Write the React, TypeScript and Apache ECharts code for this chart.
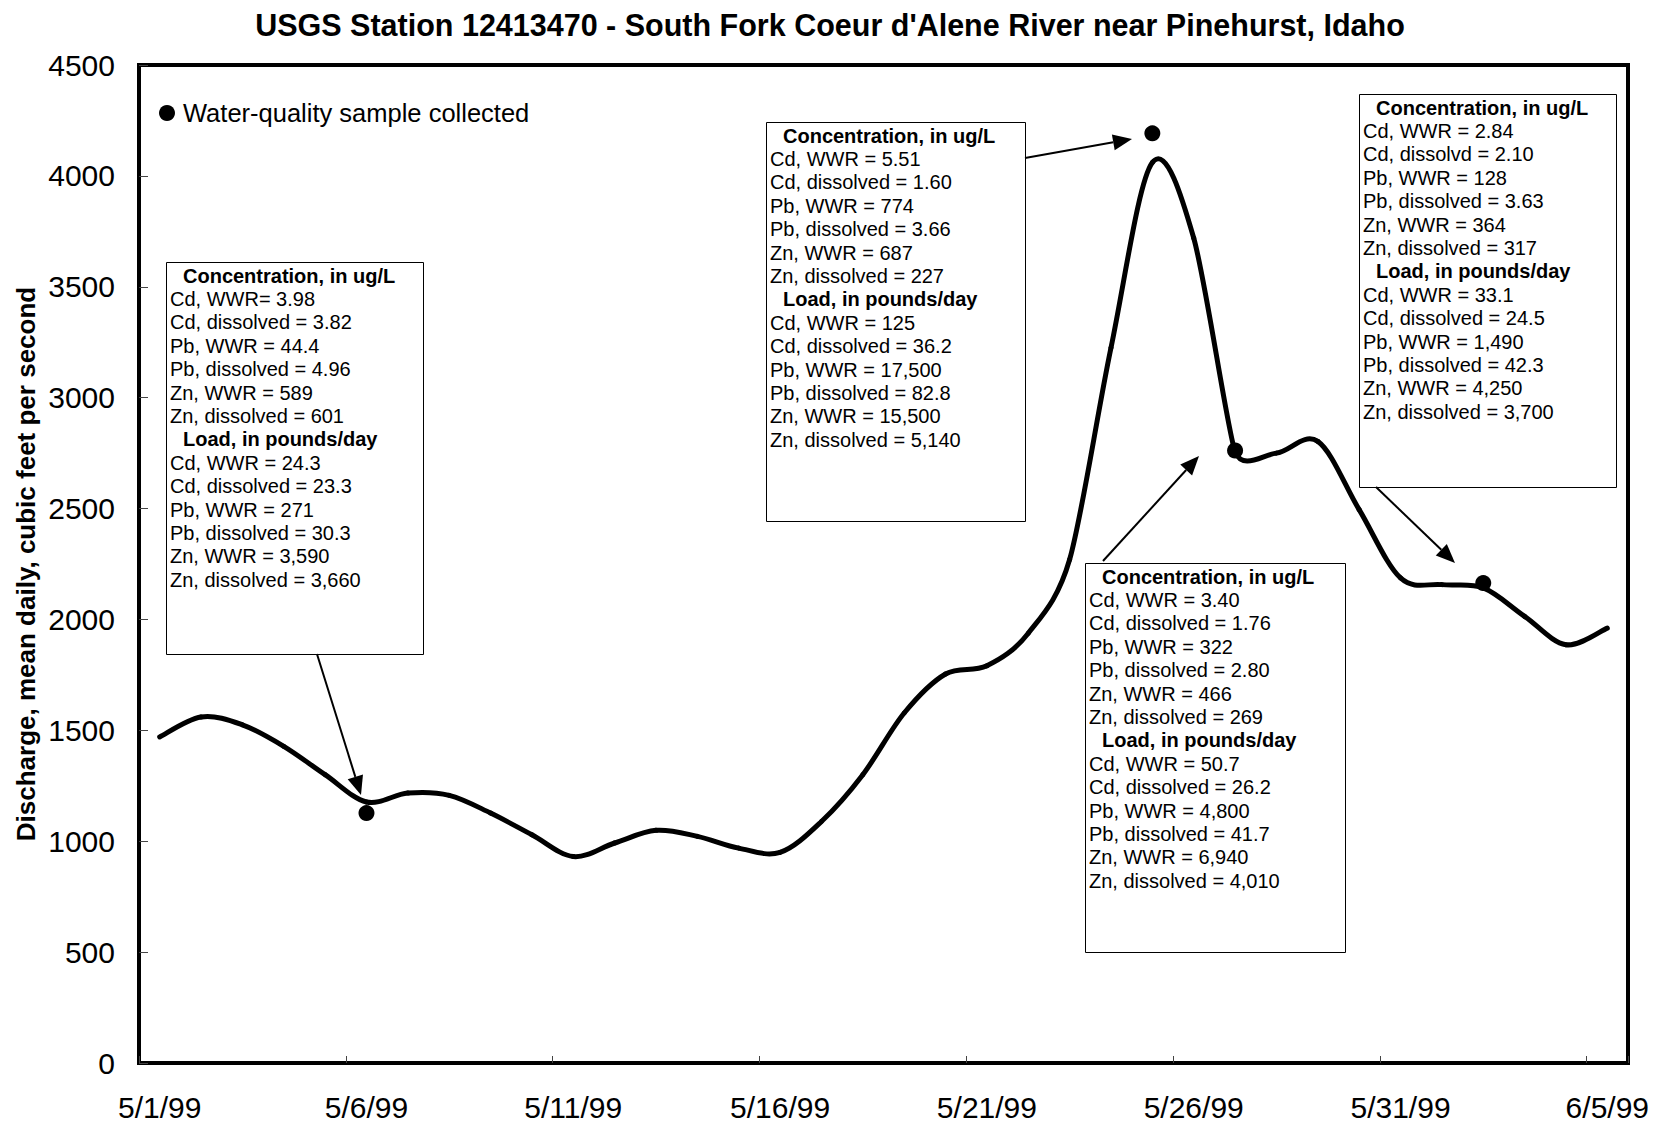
import React, { useEffect, useRef } from 'react';
import * as echarts from 'echarts';

const FONT = "'Liberation Sans', Arial, Helvetica, sans-serif";

const titleText = "USGS Station 12413470 - South Fork Coeur d'Alene River near Pinehurst, Idaho";
const yAxisTitle = 'Discharge, mean daily, cubic feet per second';
const sampleLegend = 'Water-quality sample collected';

const dates = [
  '5/1/99', '5/2/99', '5/3/99', '5/4/99', '5/5/99', '5/6/99', '5/7/99', '5/8/99', '5/9/99',
  '5/10/99', '5/11/99', '5/12/99', '5/13/99', '5/14/99', '5/15/99', '5/16/99', '5/17/99',
  '5/18/99', '5/19/99', '5/20/99', '5/21/99', '5/22/99', '5/23/99', '5/24/99', '5/25/99',
  '5/26/99', '5/27/99', '5/28/99', '5/29/99', '5/30/99', '5/31/99', '6/1/99', '6/2/99',
  '6/3/99', '6/4/99', '6/5/99',
];

const discharge = [
  1470, 1560, 1525, 1428, 1300, 1177, 1217, 1207, 1127,
  1029, 931, 992, 1049, 1022, 969, 950, 1089,
  1300, 1578, 1754, 1791, 1938, 2270, 3225, 4060,
  3720, 2757, 2750, 2803, 2495, 2187, 2157, 2142,
  2014, 1886, 1961,
];

const sampleDates = ['5/6/99', '5/25/99', '5/27/99', '6/2/99'];
const sampleDischarge = [1127, 4192, 2762, 2164];

const yMin = 0;
const yMax = 4500;
const yStep = 500;

const box1Lines = [
  '*Concentration, in ug/L', 'Cd, WWR= 3.98', 'Cd, dissolved = 3.82', 'Pb, WWR = 44.4',
  'Pb, dissolved = 4.96', 'Zn, WWR = 589', 'Zn, dissolved = 601', '*Load, in pounds/day',
  'Cd, WWR = 24.3', 'Cd, dissolved = 23.3', 'Pb, WWR = 271', 'Pb, dissolved = 30.3',
  'Zn, WWR = 3,590', 'Zn, dissolved = 3,660',
];
const box2Lines = [
  '*Concentration, in ug/L', 'Cd, WWR = 5.51', 'Cd, dissolved = 1.60', 'Pb, WWR = 774',
  'Pb, dissolved = 3.66', 'Zn, WWR = 687', 'Zn, dissolved = 227', '*Load, in pounds/day',
  'Cd, WWR = 125', 'Cd, dissolved = 36.2', 'Pb, WWR = 17,500', 'Pb, dissolved = 82.8',
  'Zn, WWR = 15,500', 'Zn, dissolved = 5,140',
];
const box3Lines = [
  '*Concentration, in ug/L', 'Cd, WWR = 2.84', 'Cd, dissolvd = 2.10', 'Pb, WWR = 128',
  'Pb, dissolved = 3.63', 'Zn, WWR = 364', 'Zn, dissolved = 317', '*Load, in pounds/day',
  'Cd, WWR = 33.1', 'Cd, dissolved = 24.5', 'Pb, WWR = 1,490', 'Pb, dissolved = 42.3',
  'Zn, WWR = 4,250', 'Zn, dissolved = 3,700',
];
const box4Lines = [
  '*Concentration, in ug/L', 'Cd, WWR = 3.40', 'Cd, dissolved = 1.76', 'Pb, WWR = 322',
  'Pb, dissolved = 2.80', 'Zn, WWR = 466', 'Zn, dissolved = 269', '*Load, in pounds/day',
  'Cd, WWR = 50.7', 'Cd, dissolved = 26.2', 'Pb, WWR = 4,800', 'Pb, dissolved = 41.7',
  'Zn, WWR = 6,940', 'Zn, dissolved = 4,010',
];

// annotation layout (pixels)
const boxes = [
  { x: 166, y: 262, w: 257, h: 392, lines: box1Lines },
  { x: 766, y: 122, w: 259, h: 399, lines: box2Lines },
  { x: 1359, y: 94, w: 257, h: 393, lines: box3Lines },
  { x: 1085, y: 563, w: 260, h: 389, lines: box4Lines },
];
const arrows = [
  { from: [317, 654], to: [361, 795] },
  { from: [1025, 158], to: [1132, 139] },
  { from: [1103, 561], to: [1199, 456] },
  { from: [1376, 487], to: [1455, 563] },
];

function buildGraphics() {
  const els: any[] = [];
  boxes.forEach((b) => {
    els.push({
      type: 'rect',
      z: 50,
      shape: { x: b.x + 0.5, y: b.y + 0.5, width: b.w, height: b.h },
      style: { fill: '#fff', stroke: '#000', lineWidth: 1 },
    });
    b.lines.forEach((ln, k) => {
      const bold = ln.startsWith('*');
      const txt = bold ? ln.slice(1) : ln;
      els.push({
        type: 'text',
        z: 51,
        x: b.x + (bold ? 17 : 4),
        y: b.y + 13.5 + k * 23.4,
        style: {
          text: txt,
          fill: '#000',
          fontSize: 20,
          fontWeight: bold ? 'bold' : 'normal',
          fontFamily: FONT,
          textAlign: 'left',
          align: 'left',
          textVerticalAlign: 'middle',
          verticalAlign: 'middle',
        },
      });
    });
  });
  arrows.forEach((a) => {
    const [x1, y1] = a.from;
    const [x2, y2] = a.to;
    const dx = x2 - x1;
    const dy = y2 - y1;
    const len = Math.sqrt(dx * dx + dy * dy);
    const ux = dx / len;
    const uy = dy / len;
    const headLen = 19;
    const headHalf = 8;
    const bx = x2 - ux * headLen;
    const by = y2 - uy * headLen;
    els.push({
      type: 'line',
      z: 52,
      shape: { x1, y1, x2: bx, y2: by },
      style: { stroke: '#000', lineWidth: 2 },
    });
    els.push({
      type: 'polygon',
      z: 52,
      shape: {
        points: [
          [x2, y2],
          [bx - uy * headHalf, by + ux * headHalf],
          [bx + uy * headHalf, by - ux * headHalf],
        ],
      },
      style: { fill: '#000' },
    });
  });
  els.push({
    type: 'text',
    x: 26,
    y: 564,
    rotation: Math.PI / 2,
    style: {
      text: yAxisTitle,
      fill: '#000',
      fontSize: 26,
      fontWeight: 'bold',
      fontFamily: FONT,
      textAlign: 'center',
      align: 'center',
      textVerticalAlign: 'middle',
      verticalAlign: 'middle',
    },
  });
  return els;
}

// spreadsheet-style smoothed segment between day k and day k+1, positioned by the chart's scales
function renderDischargeSegment(params: any, api: any) {
  const n = discharge.length;
  const k = params.dataIndex;
  if (k >= n - 1) return null;
  const c = (j: number) => {
    const jj = Math.min(Math.max(j, 0), n - 1);
    return api.coord([jj, discharge[jj]]);
  };
  const dist = (a: number[], b: number[]) => Math.hypot(a[0] - b[0], a[1] - b[1]);
  // tangent at point j (half-handle vector), limited to half of the shorter neighbouring segment
  const tangent = (j: number) => {
    const p0 = c(j - 1);
    const p1 = c(j);
    const p2 = c(j + 1);
    const d01 = dist(p0, p1);
    const d12 = dist(p1, p2);
    const d02 = dist(p0, p2);
    if (d02 === 0) return [0, 0];
    let f = 1 / 6;
    const minSeg = Math.min(d01 || d12, d12 || d01);
    if (d02 * f > minSeg / 2) f = minSeg / (2 * d02);
    return [(p2[0] - p0[0]) * f, (p2[1] - p0[1]) * f];
  };
  const p1 = c(k);
  const p2 = c(k + 1);
  const t1 = tangent(k);
  const t2 = tangent(k + 1);
  return {
    type: 'bezierCurve',
    shape: {
      x1: p1[0],
      y1: p1[1],
      x2: p2[0],
      y2: p2[1],
      cpx1: p1[0] + t1[0],
      cpy1: p1[1] + t1[1],
      cpx2: p2[0] - t2[0],
      cpy2: p2[1] - t2[1],
    },
    style: { stroke: '#000', lineWidth: 5, fill: null, lineCap: 'round', lineJoin: 'round' },
  };
}

export default function App() {
  const ref = useRef<HTMLDivElement>(null);
  useEffect(() => {
    if (!ref.current) return;
    const chart = echarts.init(ref.current, undefined, { renderer: 'svg' });
    chart.setOption({
      animation: false,
      backgroundColor: '#fff',
      title: {
        text: titleText,
        left: 'center',
        top: 9,
        padding: 0,
        textStyle: { fontSize: 30.5, fontWeight: 'bold', color: '#000', fontFamily: FONT },
      },
      legend: {
        data: [{ name: sampleLegend, icon: 'circle', itemStyle: { color: '#000', opacity: 1 } }],
        left: 159,
        top: 100,
        padding: 0,
        itemWidth: 16,
        itemHeight: 16,
        selectedMode: false,
        textStyle: { fontSize: 25.5, color: '#000', fontFamily: FONT, padding: [0, 0, 0, 3] },
      },
      grid: {
        left: 139,
        right: 32,
        top: 65,
        bottom: 61,
        show: true,
        borderColor: '#000',
        borderWidth: 4,
        backgroundColor: 'transparent',
      },
      xAxis: {
        type: 'category',
        data: dates,
        boundaryGap: true,
        axisLine: { show: false },
        axisTick: { show: true, inside: true, length: 7, interval: 4, lineStyle: { color: '#444', width: 1 } },
        axisLabel: { interval: 4, fontSize: 30, margin: 29, color: '#000', fontFamily: FONT },
        splitLine: { show: false },
      },
      yAxis: {
        type: 'value',
        min: yMin,
        max: yMax,
        interval: yStep,
        axisLine: { show: false },
        axisTick: { show: true, inside: true, length: 9, lineStyle: { color: '#444', width: 1 } },
        axisLabel: {
          fontSize: 30,
          margin: 24,
          color: '#000',
          fontFamily: FONT,
          formatter: (v: number) => String(v),
        },
        splitLine: { show: false },
      },
      series: [
        {
          type: 'custom',
          name: 'Discharge',
          data: discharge.map((v, i) => [i, v]),
          encode: { x: 0, y: 1 },
          renderItem: renderDischargeSegment,
          z: 2,
        },
        {
          type: 'scatter',
          name: sampleLegend,
          data: sampleDates.map((d, i) => [d, sampleDischarge[i]]),
          symbol: 'circle',
          symbolSize: 16,
          itemStyle: { color: '#000', opacity: 1 },
          z: 3,
        },
      ],
      graphic: buildGraphics(),
    });
    return () => chart.dispose();
  }, []);
  return (
    <div
      ref={ref}
      style={{ position: 'absolute', left: 0, top: 0, width: 1660, height: 1124, background: '#fff' }}
    />
  );
}
